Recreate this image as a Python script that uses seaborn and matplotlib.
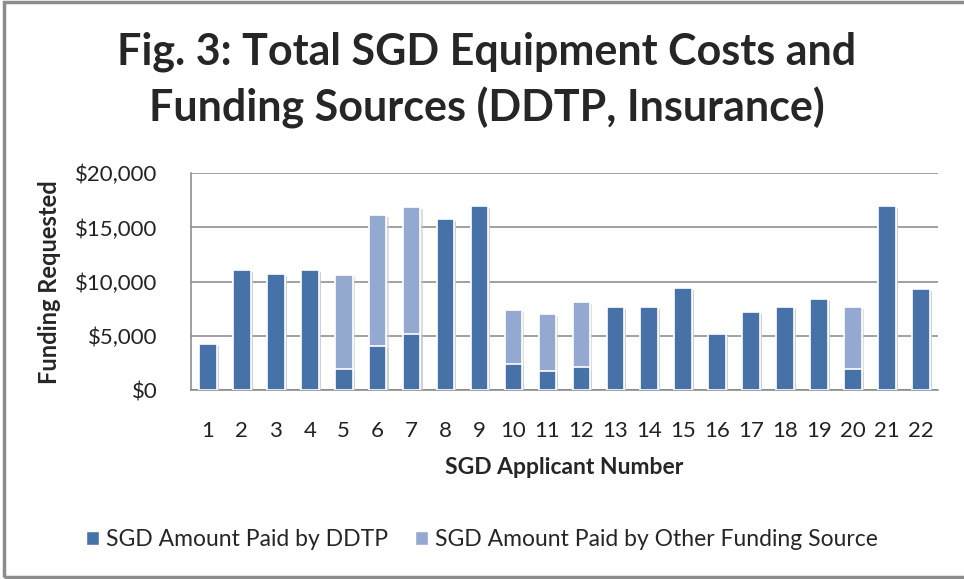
import numpy as np
import pandas as pd
import matplotlib
matplotlib.use("Agg")
import matplotlib.pyplot as plt
import matplotlib.patheffects as pe
from matplotlib.patches import Patch, Rectangle
from matplotlib.ticker import FuncFormatter
import seaborn as sns

# values
applicants = [str(i) for i in range(1, 23)]
paid_ddtp = [4300, 11100, 10700, 11100, 2000, 4100, 5200, 15800, 17000, 2450, 1750,
             2100, 7650, 7650, 9400, 5150, 7250, 7650, 8450, 1950, 17000, 9300]
paid_other = [0, 0, 0, 0, 8600, 12050, 11650, 0, 0, 4950, 5250,
              6000, 0, 0, 0, 0, 0, 0, 0, 5700, 0, 0]
yticks = [0, 5000, 10000, 15000, 20000]

DARK = "#4672A8"
LIGHT = "#94A9D0"

df = pd.DataFrame({"applicant": applicants, "ddtp": paid_ddtp, "other": paid_other})
df["total"] = df["ddtp"] + df["other"]

sns.set_theme(style="white")
plt.rcParams["font.family"] = ["Lato", "DejaVu Sans"]

fig = plt.figure(figsize=(9.64, 5.79), dpi=100)
ax = fig.add_axes([0.198, 0.326, 0.775, 0.375])

shadow = [pe.SimplePatchShadow(offset=(1.5, -1.5), shadow_rgbFace="#c8c8c8", alpha=0.6), pe.Normal()]

# light bar = total, dark bar drawn over it = DDTP share
sns.barplot(data=df, x="applicant", y="total", color=LIGHT, saturation=1, width=0.52,
            edgecolor="white", linewidth=1.2, ax=ax, zorder=3)
sns.barplot(data=df, x="applicant", y="ddtp", color=DARK, saturation=1, width=0.52,
            edgecolor="white", linewidth=1.2, ax=ax, zorder=4)
for p in ax.patches:
    p.set_path_effects(shadow)

ax.set_ylim(0, 20000)
ax.set_xlim(-0.5, len(applicants) - 0.5)
ax.set_yticks(yticks)
ax.yaxis.set_major_formatter(FuncFormatter(lambda v, _: f"${v:,.0f}"))
ax.grid(axis="y", color="#868686", linewidth=1.1, zorder=0)
ax.set_axisbelow(True)
for s in ["top", "right"]:
    ax.spines[s].set_visible(False)
for s in ["left", "bottom"]:
    ax.spines[s].set_color("#868686")
    ax.spines[s].set_linewidth(1.1)

ax.tick_params(axis="both", length=0, labelsize=16, colors="#222222")
ax.tick_params(axis="x", pad=22)
ax.tick_params(axis="y", pad=24)
ax.set_xlabel("SGD Applicant Number", fontsize=16.5, fontweight="bold", labelpad=12)
ax.set_ylabel("Funding Requested", fontsize=17, fontweight="bold", labelpad=10)

fig.text(0.505, 0.945, "Fig. 3: Total SGD Equipment Costs and\nFunding Sources (DDTP, Insurance)",
         ha="center", va="top", fontsize=31, fontweight="bold", linespacing=1.42)

handles = [Patch(facecolor=DARK, label="SGD Amount Paid by DDTP"),
           Patch(facecolor=LIGHT, label="SGD Amount Paid by Other Funding Source")]
fig.legend(handles=handles, loc="center", bbox_to_anchor=(0.5, 0.068), ncol=2, frameon=False,
           fontsize=16.5, handlelength=0.55, handleheight=0.55, handletextpad=0.3, columnspacing=1.2)

fig.patches.append(Rectangle((0.004, 0.003), 1.2, 0.993, transform=fig.transFigure,
                             fill=False, edgecolor="#8c8c8c", linewidth=2.5))

fig.savefig("out.png", dpi=100, facecolor="white")
